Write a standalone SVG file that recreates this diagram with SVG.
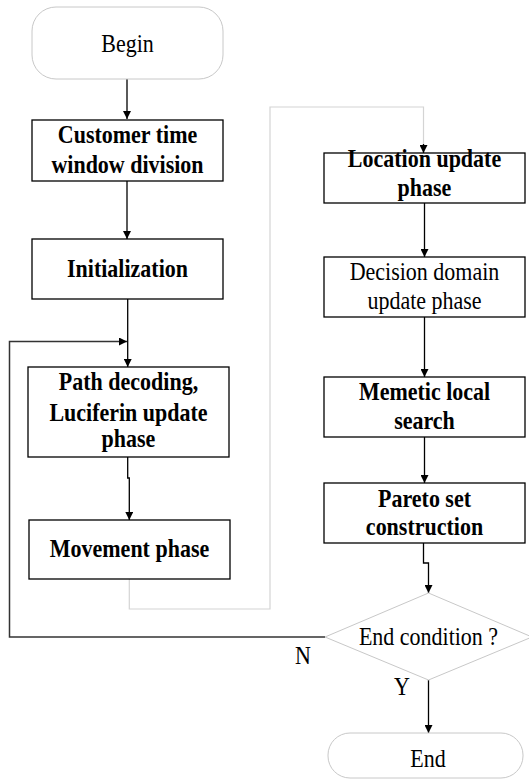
<svg xmlns="http://www.w3.org/2000/svg" width="529" height="780" viewBox="0 0 529 780">
<defs>
<marker id="ah" viewBox="0 0 10 10" refX="10" refY="5" markerWidth="8" markerHeight="8" markerUnits="userSpaceOnUse" orient="auto">
<path d="M0,0 L10,5 L0,10 Z" fill="#000"/>
</marker>
</defs>
<style>
.box{fill:#fff;stroke:#000;stroke-width:1.3}
.term{fill:#fff;stroke:#c8c8c8;stroke-width:1}
.t{font-family:"Liberation Serif","Times New Roman",serif;font-size:22px;fill:#000;text-anchor:middle}
.b{font-weight:bold}
.c{fill:none;stroke:#000;stroke-width:1.3}
.g{fill:none;stroke:#d4d4d4;stroke-width:1.2}
.d{fill:none;stroke:#333;stroke-width:1.5}
</style>
<rect width="529" height="780" fill="#fff"/>
<g id="connectors">
<path class="c" d="M127,79 V119" marker-end="url(#ah)"/>
<path class="c" d="M127,181 V239" marker-end="url(#ah)"/>
<path class="c" d="M127.7,299 V367" marker-end="url(#ah)"/>
<path class="c" d="M127.7,457 V478 H129.3 V520" marker-end="url(#ah)"/>
<path class="g" d="M129.3,579 V609 H270 V107 H423.5 V145"/>
<path class="c" d="M423.5,144 V153" marker-end="url(#ah)"/>
<path class="c" d="M424.5,203 V257" marker-end="url(#ah)"/>
<path class="c" d="M424.5,317 V377" marker-end="url(#ah)"/>
<path class="c" d="M424.5,437 V483" marker-end="url(#ah)"/>
<path class="c" d="M423.5,543 V563 H428.5 V593" marker-end="url(#ah)"/>
<path class="d" d="M325,637 H9.5 V341.5 H127" marker-end="url(#ah)"/>
<path class="c" d="M428.5,680 V733" marker-end="url(#ah)"/>
<text class="t" transform="translate(303,664) scale(1,1.12)">N</text>
<text class="t" transform="translate(402,695) scale(1,1.12)">Y</text>
</g>
<g id="begin">
<rect class="term" x="32" y="7" width="191" height="72" rx="24" ry="24"/>
<text class="t" transform="translate(127.5,52) scale(1,1.12)">Begin</text>
</g>
<g id="customer">
<rect class="box" x="32" y="120" width="191" height="61"/>
<text class="t b" transform="translate(127.5,143) scale(1,1.12)">Customer time</text>
<text class="t b" transform="translate(127.5,173) scale(1,1.12)">window division</text>
</g>
<g id="init">
<rect class="box" x="32" y="239" width="191" height="60"/>
<text class="t b" transform="translate(127.5,277) scale(1,1.12)">Initialization</text>
</g>
<g id="path">
<rect class="box" x="28" y="367" width="201" height="90"/>
<text class="t b" transform="translate(128.5,390) scale(1,1.12)">Path decoding,</text>
<text class="t b" transform="translate(128.5,421) scale(1,1.12)">Luciferin update</text>
<text class="t b" transform="translate(128.5,447) scale(1,1.12)">phase</text>
</g>
<g id="movement">
<rect class="box" x="29" y="520" width="201" height="59"/>
<text class="t b" transform="translate(129.5,557) scale(1,1.12)">Movement phase</text>
</g>
<g id="location">
<rect class="box" x="324" y="153" width="201" height="50"/>
<text class="t b" transform="translate(424.5,167) scale(1,1.12)">Location update</text>
<text class="t b" transform="translate(424.5,196) scale(1,1.12)">phase</text>
</g>
<g id="decision">
<rect class="box" x="324" y="257" width="201" height="60"/>
<text class="t" transform="translate(424.5,280) scale(1,1.12)">Decision domain</text>
<text class="t" transform="translate(424.5,309) scale(1,1.12)">update phase</text>
</g>
<g id="memetic">
<rect class="box" x="324" y="377" width="201" height="60"/>
<text class="t b" transform="translate(424.5,400) scale(1,1.12)">Memetic local</text>
<text class="t b" transform="translate(424.5,429) scale(1,1.12)">search</text>
</g>
<g id="pareto">
<rect class="box" x="324" y="483" width="201" height="60"/>
<text class="t b" transform="translate(424.5,507) scale(1,1.12)">Pareto set</text>
<text class="t b" transform="translate(424.5,535) scale(1,1.12)">construction</text>
</g>
<g id="endcond">
<polygon class="term" points="428.5,593 532,637 428.5,680 325,637"/>
<text class="t" transform="translate(428.5,645) scale(1,1.12)">End condition ?</text>
</g>
<g id="end">
<rect class="term" x="328" y="733" width="195" height="45" rx="22" ry="22"/>
<text class="t" transform="translate(428,767) scale(1,1.12)">End</text>
</g>
</svg>
